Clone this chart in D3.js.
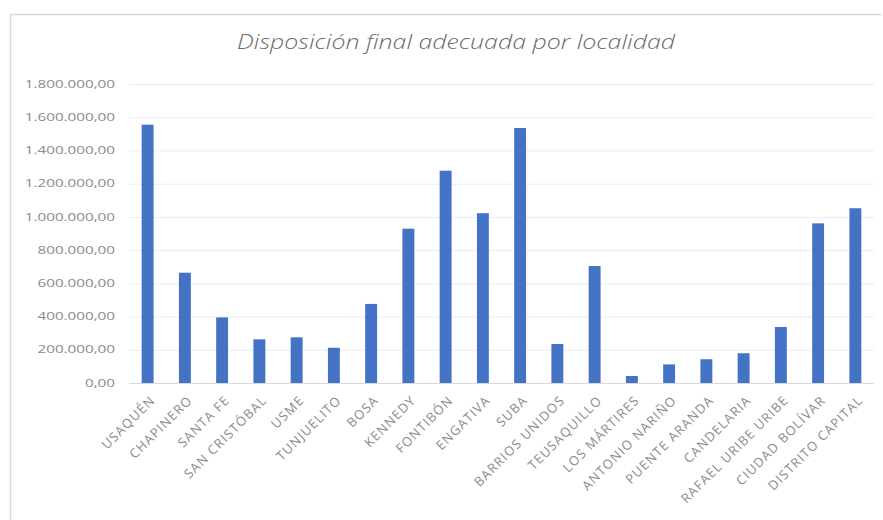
<!DOCTYPE html>
<html>
<head>
<meta charset="utf-8">
<script src="https://cdn.jsdelivr.net/npm/d3@7.9.0/dist/d3.min.js"></script>
<style>
  body { margin: 0; background: #fff; }
  svg { display: block; font-family: 'Open Sans', sans-serif; }
</style>
</head>
<body>
<svg id="chart" width="883" height="520"></svg>
<script>
const localidades = [
  'USAQUÉN', 'CHAPINERO', 'SANTA FE', 'SAN CRISTÓBAL', 'USME', 'TUNJUELITO',
  'BOSA', 'KENNEDY', 'FONTIBÓN', 'ENGATIVA', 'SUBA', 'BARRIOS UNIDOS',
  'TEUSAQUILLO', 'LOS MÁRTIRES', 'ANTONIO NARIÑO', 'PUENTE ARANDA',
  'CANDELARIA', 'RAFAEL URIBE URIBE', 'CIUDAD BOLÍVAR', 'DISTRITO CAPITAL'
];
const disposicion = [
  1555000, 664000, 395000, 263000, 275000, 212000,
  476000, 929000, 1278000, 1022000, 1535000, 235000,
  704000, 42000, 112000, 143000,
  179000, 337000, 961000, 1052000
];
const yTicks = [0, 200000, 400000, 600000, 800000, 1000000, 1200000, 1400000, 1600000, 1800000];

const svg = d3.select('#chart');
const margin = { left: 129, right: 874, top: 84, bottom: 383 };

// chart frame
svg.append('path')
  .attr('d', 'M10.5,520 V14.5 H882')
  .attr('fill', 'none')
  .attr('stroke', '#d9d9d9')
  .attr('stroke-width', 1.5);

const x = d3.scaleBand()
  .domain(localidades)
  .range([margin.left, margin.right])
  .paddingInner(0.68)
  .paddingOuter(0.34);

const y = d3.scaleLinear()
  .domain([0, 1800000])
  .range([margin.bottom, margin.top]);

const fmt = d3.formatLocale({ decimal: ',', thousands: '.', grouping: [3], currency: ['', ''] }).format(',.2f');

// gridlines
svg.append('g')
  .selectAll('line')
  .data(yTicks)
  .join('line')
  .attr('x1', margin.left)
  .attr('x2', margin.right)
  .attr('y1', d => y(d) + 0.5)
  .attr('y2', d => y(d) + 0.5)
  .attr('stroke', d => d === 0 ? '#d9d9d9' : '#ececec')
  .attr('stroke-width', 1);

// y labels (the picture is a bit stretched sideways)
svg.append('g')
  .selectAll('text')
  .data(yTicks)
  .join('text')
  .attr('transform', d => `translate(115,${y(d)}) scale(1.45,1)`)
  .attr('dy', '0.35em')
  .attr('text-anchor', 'end')
  .attr('font-size', 10.5)
  .attr('fill', '#8a8a8a')
  .text(d => fmt(d));

// bars
svg.append('g')
  .selectAll('rect')
  .data(disposicion)
  .join('rect')
  .attr('x', (d, i) => x(localidades[i]))
  .attr('width', x.bandwidth())
  .attr('y', d => y(d))
  .attr('height', d => y(0) - y(d))
  .attr('fill', '#4472c4');

// x labels
svg.append('g')
  .selectAll('text')
  .data(localidades)
  .join('text')
  .attr('transform', d => `translate(${x(d) + x.bandwidth() / 2 + 5},${margin.bottom + 15}) rotate(-45)`)
  .attr('text-anchor', 'end')
  .attr('dy', '0.35em')
  .attr('font-size', 13)
  .attr('letter-spacing', 1.1)
  .attr('fill', '#8a8a8a')
  .text(d => d);

// title
svg.append('text')
  .attr('x', 237)
  .attr('y', 49)
  .attr('textLength', 438)
  .attr('lengthAdjust', 'spacingAndGlyphs')
  .attr('font-size', 20)
  .attr('font-style', 'italic')
  .attr('font-weight', 300)
  .attr('fill', '#6b6b6b')
  .text('Disposición final adecuada por localidad');
</script>
</body>
</html>
